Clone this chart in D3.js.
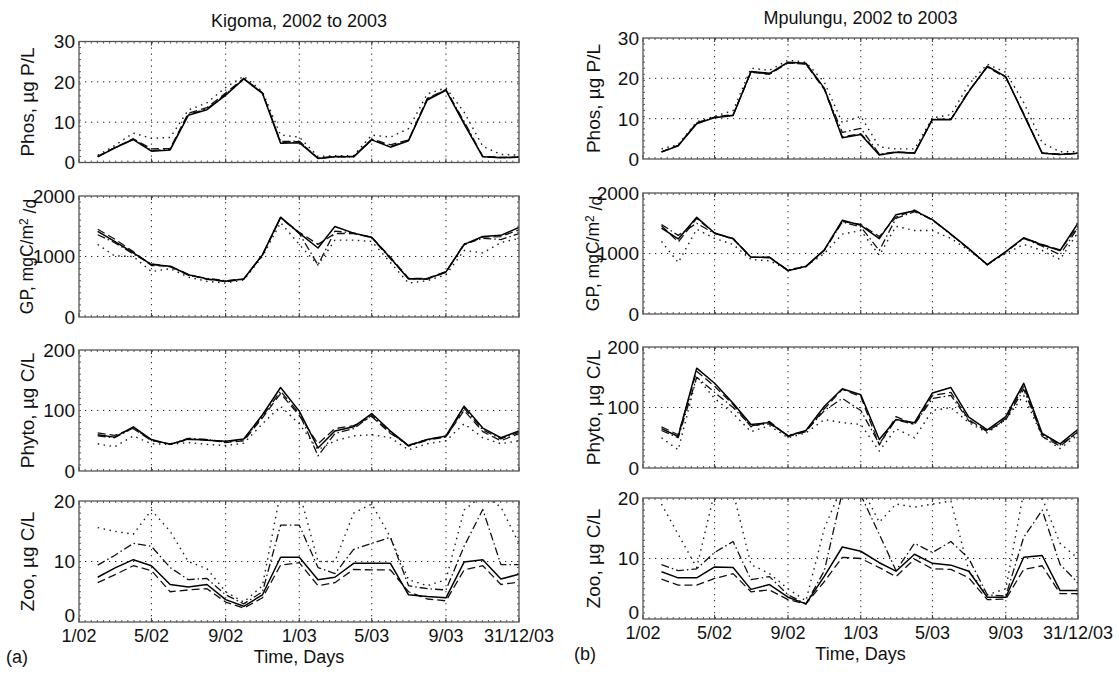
<!DOCTYPE html>
<html><head><meta charset="utf-8">
<script src="https://cdn.jsdelivr.net/npm/d3@7"></script>
<style>
html,body{margin:0;padding:0;background:#fff;}
text{font-family:"Liberation Sans",Arial,Helvetica,sans-serif;fill:#111;}
</style></head>
<body><svg id="chart" width="1119" height="681"></svg>
<script>
// ---------- DATA ----------
const dates = ["2002-02-01","2002-03-01","2002-04-01","2002-05-01","2002-06-01","2002-07-01","2002-08-01","2002-09-01","2002-10-01","2002-11-01","2002-12-01","2003-01-01","2003-02-01","2003-03-01","2003-04-01","2003-05-01","2003-06-01","2003-07-01","2003-08-01","2003-09-01","2003-10-01","2003-11-01","2003-12-01","2003-12-31"];
const xTickDates = ["2002-01-01","2002-05-01","2002-09-01","2003-01-01","2003-05-01","2003-09-01","2003-12-31"];
const xTickLabels = ["1/02","5/02","9/02","1/03","5/03","9/03","31/12/03"];
const titles = ["Kigoma, 2002 to 2003","Mpulungu, 2002 to 2003"];
const panelLetters = ["(a)","(b)"];
const xLabel = "Time, Days";
const yDomains = [[0,30],[0,2000],[0,200],[0,20]];
const yTicks = [[0,10,20,30],[0,1000,2000],[0,100,200],[0,10,20]];

// Kigoma
const kigomaPhosSolid   = [1.4,3.6,5.7,2.8,3.1,11.7,13.1,16.7,20.7,17.1,4.8,4.9,1.0,1.4,1.4,5.6,3.8,5.4,15.5,17.9,9.6,1.4,1.2,1.3];
const kigomaPhosDashed  = [1.5,3.7,5.9,3.4,3.5,12.2,13.6,17.2,20.9,17.3,5.0,5.2,1.1,1.5,1.5,5.8,4.4,5.6,15.9,18.1,9.8,1.5,1.3,1.3];
const kigomaPhosDashDot = [1.5,3.6,5.8,3.0,3.2,11.9,13.3,16.9,20.8,17.2,5.2,5.3,1.0,1.4,1.4,5.7,4.0,5.5,15.7,18.0,10.2,1.5,1.2,1.3];
const kigomaPhosDotted  = [1.8,4.2,7.3,6.0,6.2,13.0,14.8,18.6,21.4,17.6,6.8,6.3,1.5,1.7,1.7,6.8,6.3,8.4,17.0,18.5,12.5,4.0,2.0,1.8];

const kigomaGPSolid   = [1414,1250,1060,866,838,700,630,592,630,1030,1650,1386,1140,1496,1386,1320,975,630,630,745,1200,1330,1350,1480];
const kigomaGPDashed  = [1450,1290,1080,850,842,705,622,585,625,1030,1640,1400,1200,1380,1380,1315,990,640,640,750,1190,1320,1330,1440];
const kigomaGPDashDot = [1360,1230,1040,880,830,690,640,600,630,1020,1640,1380,860,1420,1390,1310,960,640,625,740,1210,1300,1280,1380];
const kigomaGPDotted  = [1200,1010,1000,750,800,660,590,560,610,1000,1560,1200,860,1270,1270,1250,900,560,600,700,1100,1060,1230,1300];

const kigomaPhytoSolid   = [60,56,73,52,44,53,51,49,53,93,138,99,38,66,73,95,66,42,52,58,107,71,55,66];
const kigomaPhytoDashed  = [63,59,70,50,45,52,52,47,50,88,128,92,45,70,75,90,62,43,52,57,100,65,50,62];
const kigomaPhytoDashDot = [58,55,71,51,44,54,52,48,52,90,132,95,25,62,70,92,64,41,51,56,104,68,53,64];
const kigomaPhytoDotted  = [45,40,58,45,44,47,44,42,46,78,107,78,35,50,58,60,55,35,45,50,78,55,45,50];

const kigomaZooSolid   = [7.4,8.9,10.3,9.3,6.2,5.8,6.2,3.7,2.6,4.5,10.7,10.7,7.0,7.4,9.7,9.7,9.7,4.5,4.2,4.0,9.9,10.3,7.1,7.9];
const kigomaZooDashed  = [6.5,7.8,9.3,8.5,5.0,5.3,5.5,3.3,2.3,4.0,9.4,9.8,6.0,6.5,8.7,8.6,8.6,5.0,3.8,3.5,8.6,9.3,6.2,6.6];
const kigomaZooDashDot = [9.4,11.0,13.0,12.5,9.0,7.0,7.2,4.5,3.0,5.0,16.0,16.0,9.0,8.0,12.0,13.0,14.0,6.0,5.5,5.3,12.5,18.6,9.5,9.5];
const kigomaZooDotted  = [15.6,15.0,14.5,18.5,15.0,10.0,8.8,5.0,3.3,6.0,21.5,21.5,10.0,10.0,18.0,19.5,14.0,7.0,6.0,7.0,18.5,21.0,19.0,13.0];

// Mpulungu
const mpulunguPhosSolid   = [1.7,3.3,8.75,10.25,10.8,21.7,21.25,24.0,23.75,17.5,5.25,6.1,1.0,1.7,1.4,9.75,9.75,16.7,23.0,20.4,11.0,1.4,1.1,1.4];
const mpulunguPhosDashed  = [1.8,3.4,9.0,10.4,11.0,21.5,21.0,23.8,23.5,17.2,5.5,6.3,1.1,1.8,1.5,9.9,9.9,16.9,22.8,20.2,11.3,1.5,1.2,1.4];
const mpulunguPhosDashDot = [1.8,3.3,8.9,10.3,10.9,21.6,21.1,23.9,23.6,17.4,6.6,7.6,1.2,1.7,1.5,9.8,9.8,16.8,22.9,20.3,11.1,1.5,1.1,1.4];
const mpulunguPhosDotted  = [2.5,3.6,9.2,10.6,12.0,22.5,22.0,24.5,24.0,19.0,9.0,10.6,3.0,2.5,2.5,10.2,11.0,18.5,23.5,21.5,14.0,4.0,1.8,1.8];

const mpulunguGPSolid   = [1421,1240,1598,1339,1245,937,937,716,788,1063,1548,1466,1245,1642,1708,1559,1322,1080,815,1030,1260,1140,1050,1500];
const mpulunguGPDashed  = [1460,1190,1580,1335,1240,940,930,720,780,1060,1530,1480,1280,1600,1720,1550,1320,1070,820,1030,1255,1150,1060,1450];
const mpulunguGPDashDot = [1480,1300,1500,1330,1250,935,940,725,785,1050,1520,1440,1050,1580,1690,1560,1310,1080,810,1025,1250,1120,980,1430];
const mpulunguGPDotted  = [1200,850,1400,1250,1150,900,880,730,790,1000,1320,1380,970,1450,1380,1380,1250,1050,820,1000,1150,1050,900,1350];

const mpulunguPhytoSolid   = [65,52,165,140,107,72,75,53,62,102,131,121,47,80,75,124,133,84,63,85,140,57,40,64];
const mpulunguPhytoDashed  = [68,55,160,135,105,68,77,52,60,98,130,118,38,85,72,120,125,80,60,82,135,52,36,60];
const mpulunguPhytoDashDot = [62,50,150,125,100,70,73,54,61,95,115,95,40,80,72,115,120,78,61,80,130,55,38,58];
const mpulunguPhytoDotted  = [50,30,150,115,90,60,70,50,58,80,75,72,28,65,50,95,100,75,58,80,120,52,32,55];

const mpulunguZooSolid   = [7.8,6.8,6.8,8.6,8.5,4.9,5.7,3.6,2.5,7.1,11.9,11.2,9.3,7.9,10.7,9.2,8.9,7.9,3.6,3.6,10.2,10.5,4.7,4.7];
const mpulunguZooDashed  = [6.6,5.6,5.6,6.7,7.5,4.5,4.8,3.2,2.5,6.2,10.2,10.0,8.5,7.0,9.9,8.3,8.2,6.8,3.2,3.3,8.2,8.8,4.2,4.2];
const mpulunguZooDashDot = [9.0,8.0,8.3,11.0,12.8,6.5,7.0,4.0,2.5,8.0,21.0,20.5,14.0,8.0,12.5,11.0,12.8,10.0,4.0,3.8,13.5,18.0,9.0,6.0];
const mpulunguZooDotted  = [19.0,14.0,8.5,21.0,21.0,9.0,7.5,5.0,3.0,15.0,22.0,22.0,16.0,19.0,18.5,19.0,19.5,8.0,4.0,5.0,21.0,20.0,12.5,10.0];

// ---------- LAYOUT ----------
const parse = d3.timeParse("%Y-%m-%d");
const dateObjs = dates.map(parse);
const figures = [
  { x0: 79, x1: 519, tops: [41.5,196,350,501], h: 121, yLabelX: 27, titleY: 27, xTickY: 642, xLabelY: 662.5, letterX: 6,
    series: [
      [kigomaPhosSolid,kigomaPhosDashed,kigomaPhosDashDot,kigomaPhosDotted],
      [kigomaGPSolid,kigomaGPDashed,kigomaGPDashDot,kigomaGPDotted],
      [kigomaPhytoSolid,kigomaPhytoDashed,kigomaPhytoDashDot,kigomaPhytoDotted],
      [kigomaZooSolid,kigomaZooDashed,kigomaZooDashDot,kigomaZooDotted]] },
  { x0: 643, x1: 1078, tops: [38,193,347,498], h: 121, yLabelX: 593, titleY: 24, xTickY: 639, xLabelY: 659.5, letterX: 574,
    series: [
      [mpulunguPhosSolid,mpulunguPhosDashed,mpulunguPhosDashDot,mpulunguPhosDotted],
      [mpulunguGPSolid,mpulunguGPDashed,mpulunguGPDashDot,mpulunguGPDotted],
      [mpulunguPhytoSolid,mpulunguPhytoDashed,mpulunguPhytoDashDot,mpulunguPhytoDotted],
      [mpulunguZooSolid,mpulunguZooDashed,mpulunguZooDashDot,mpulunguZooDotted]] }
];
const styles = [
  { stroke: "#000", width: 1.5, dash: null },
  { stroke: "#111", width: 1.3, dash: "8,4" },
  { stroke: "#111", width: 1.3, dash: "8,3,1.5,3" },
  { stroke: "#1a1a1a", width: 1.4, dash: "1.5,4.5" }
];
const FS = 19;
const FSX = 18;
const svg = d3.select("#chart");

function yLabel(g, i, x, cy) {
  const t = g.append("text").attr("transform", `translate(${x},${cy}) rotate(-90)`)
    .attr("text-anchor","middle").attr("dy","0.35em").attr("font-size", FS);
  if (i === 0) t.text("Phos, µg P/L");
  else if (i === 1) {
    t.attr("font-size", 17.5);
    t.append("tspan").text("GP, mgC/m");
    t.append("tspan").attr("dy","-0.45em").attr("font-size", 12).text("2");
    t.append("tspan").attr("dy","0.45em").text(" /d");
  }
  else if (i === 2) t.text("Phyto, µg C/L");
  else t.text("Zoo, µg C/L");
}

figures.forEach((fig, fi) => {
  const g = svg.append("g");
  const x = d3.scaleTime().domain([parse(xTickDates[0]), parse(xTickDates[xTickDates.length-1])]).range([fig.x0, fig.x1]);
  // title
  g.append("text").attr("x", (fig.x0+fig.x1)/2).attr("y", fig.titleY).attr("text-anchor","middle")
    .attr("font-size", 18).text(titles[fi]);
  fig.tops.forEach((top, pi) => {
    const bottom = top + fig.h;
    const y = d3.scaleLinear().domain(yDomains[pi]).range([bottom, top]);
    const pg = g.append("g");
    const clipId = `clip-${fi}-${pi}`;
    pg.append("clipPath").attr("id", clipId).append("rect")
      .attr("x", fig.x0).attr("y", top).attr("width", fig.x1-fig.x0).attr("height", fig.h);
    // grid lines
    xTickDates.slice(1, -1).forEach(d => {
      pg.append("line").attr("x1", x(parse(d))).attr("x2", x(parse(d))).attr("y1", top).attr("y2", bottom)
        .attr("stroke","#222").attr("stroke-width",1).attr("stroke-dasharray","1.3,4.7");
    });
    yTicks[pi].slice(1, -1).forEach(v => {
      pg.append("line").attr("x1", fig.x0).attr("x2", fig.x1).attr("y1", y(v)).attr("y2", y(v))
        .attr("stroke","#222").attr("stroke-width",1).attr("stroke-dasharray","1.3,4.7");
    });
    // minor ticks
    const nx = 72, ny = 20;
    d3.range(1, nx).forEach(k => {
      const xx = fig.x0 + k*(fig.x1-fig.x0)/nx;
      pg.append("line").attr("x1",xx).attr("x2",xx).attr("y1",top).attr("y2",top+2).attr("stroke","#555");
      pg.append("line").attr("x1",xx).attr("x2",xx).attr("y1",bottom).attr("y2",bottom-2).attr("stroke","#555");
    });
    d3.range(1, ny).forEach(k => {
      const yy = top + k*fig.h/ny;
      pg.append("line").attr("x1",fig.x0).attr("x2",fig.x0+2).attr("y1",yy).attr("y2",yy).attr("stroke","#555");
      pg.append("line").attr("x1",fig.x1).attr("x2",fig.x1-2).attr("y1",yy).attr("y2",yy).attr("stroke","#555");
    });
    // major ticks
    xTickDates.forEach(d => {
      const xx = x(parse(d));
      pg.append("line").attr("x1",xx).attr("x2",xx).attr("y1",top).attr("y2",top+4).attr("stroke","#333");
      pg.append("line").attr("x1",xx).attr("x2",xx).attr("y1",bottom).attr("y2",bottom-4).attr("stroke","#333");
    });
    // series
    const line = d3.line().x((d,i) => x(dateObjs[i])).y(d => y(d));
    const order = [3,2,1,0];
    order.forEach(si => {
      const st = styles[si];
      pg.append("path").datum(fig.series[pi][si]).attr("d", line)
        .attr("clip-path", `url(#${clipId})`)
        .attr("fill","none").attr("stroke", st.stroke).attr("stroke-width", st.width)
        .attr("stroke-linejoin","round")
        .attr("stroke-dasharray", st.dash);
    });
    // frame
    pg.append("rect").attr("x", fig.x0).attr("y", top).attr("width", fig.x1-fig.x0).attr("height", fig.h)
      .attr("fill","none").attr("stroke","#555").attr("stroke-width",1.3);
    // y tick labels
    yTicks[pi].forEach(v => {
      const isCorner = (pi === 3 && v === 0);
      pg.append("text").attr("x", fig.x0 - 4).attr("y", isCorner ? y(v) - 0.5 : y(v)).attr("dy", isCorner ? "0" : "0.36em")
        .attr("text-anchor","end").attr("font-size", FS).text(v);
    });
    yLabel(pg, pi, fig.yLabelX, (top+bottom)/2);
    if (pi === 3) {
      xTickDates.forEach((d, k) => {
        pg.append("text").attr("x", x(parse(d))).attr("y", fig.xTickY).attr("text-anchor","middle")
          .attr("font-size", FSX).text(xTickLabels[k]);
      });
      pg.append("text").attr("x", (fig.x0+fig.x1)/2).attr("y", fig.xLabelY).attr("text-anchor","middle")
        .attr("font-size", FSX).text(xLabel);
      pg.append("text").attr("x", fig.letterX).attr("y", fig.xLabelY).attr("font-size", FSX).text(panelLetters[fi]);
    }
  });
});
</script></body></html>
